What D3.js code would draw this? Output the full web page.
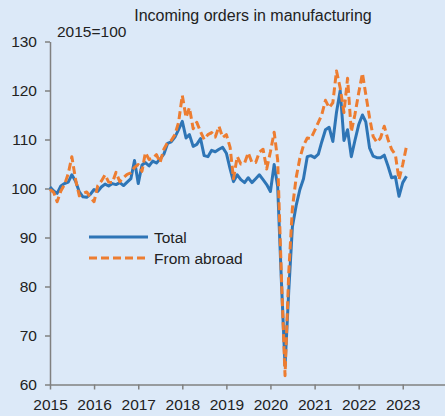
<!DOCTYPE html>
<html>
<head>
<meta charset="utf-8">
<script src="https://cdn.jsdelivr.net/npm/d3@7"></script>
<style>
  body { margin: 0; background: #dce9f8; }
  svg { display: block; font-family: "Liberation Sans", Arial, sans-serif; }
</style>
</head>
<body>
<div id="chart"></div>
<script>
const width = 445;
const height = 416;

// monthly index values, Jan 2015 .. Feb 2023
const total = [
  100.3, 99.5, 99.0, 100.5, 101.0, 101.3, 102.8, 101.5, 99.3, 98.3, 98.2, 98.8,
  99.8, 99.4, 100.3, 100.9, 100.5, 101.0, 100.8, 101.2, 100.6, 101.3, 102.0, 105.7,
  101.0, 104.8, 105.3, 104.6, 105.6, 105.2, 106.0, 107.0, 109.2, 109.5, 110.5, 112.0,
  113.7, 110.3, 111.0, 108.6, 109.0, 110.2, 106.7, 106.5, 107.8, 107.5, 108.0, 108.4,
  107.2, 104.0, 101.4, 102.8, 101.8, 101.2, 102.2, 101.2, 102.0, 102.8, 101.8, 100.8,
  99.4, 104.9, 100.4, 81.0, 63.8, 79.2, 92.2, 96.5, 99.8, 102.0, 106.5, 106.7,
  106.3, 107.0, 109.5, 112.0, 112.5, 109.6, 115.5, 120.0, 109.8, 112.0, 106.5, 109.8,
  113.0, 115.0, 113.6, 108.3, 106.6, 106.3, 106.3, 106.8, 104.6, 102.2, 102.4, 98.4,
  101.2, 102.5
];
const abroad = [
  99.8, 99.2, 97.3, 99.5, 100.8, 103.0, 106.5, 101.8, 98.5, 99.0, 99.3, 98.2,
  97.3, 100.6, 101.5, 102.8, 101.3, 101.2, 103.3, 101.4, 102.2, 102.9, 103.2, 104.3,
  104.9, 103.5, 107.3, 105.9, 106.2, 106.9, 105.3, 108.0, 109.4, 109.8, 111.0, 113.5,
  119.0, 114.5, 116.5, 112.2, 113.5, 111.6, 110.0, 111.0, 111.4, 110.5, 112.7, 110.4,
  111.0, 108.4, 102.0, 106.5, 105.0, 105.2, 107.3, 105.3, 105.3, 107.4, 108.0, 104.0,
  107.5, 111.5, 105.8, 82.0, 61.8, 83.0, 96.0, 102.2, 106.2, 108.8, 110.3, 110.2,
  111.8, 113.5, 115.0, 118.0, 116.5, 117.5, 124.0, 120.5, 115.5, 122.5, 111.6, 115.1,
  119.5, 123.5, 119.2, 114.5, 110.6, 109.4, 110.3, 112.7, 110.0, 108.0, 106.9, 101.8,
  104.9, 108.6
];
const yTicks = [60, 70, 80, 90, 100, 110, 120, 130];
const years = [2015, 2016, 2017, 2018, 2019, 2020, 2021, 2022, 2023];

const months = d3.utcMonth.range(new Date(Date.UTC(2015, 0, 1)), new Date(Date.UTC(2023, 2, 1)));

const svg = d3.select("#chart").append("svg")
  .attr("width", width)
  .attr("height", height);

svg.append("rect").attr("width", width).attr("height", height).attr("fill", "#dce9f8");

const x = d3.scaleUtc()
  .domain([new Date(Date.UTC(2015, 0, 1)), new Date(Date.UTC(2024, 0, 1))])
  .range([50, 446.8]);
const y = d3.scaleLinear().domain([60, 130]).range([384.5, 41.5]);

const axisColor = "#808080";

const yAxis = svg.append("g")
  .attr("transform", "translate(50,0)")
  .call(d3.axisLeft(y).tickValues(yTicks).tickSize(5).tickSizeOuter(0).tickPadding(8));
const xAxis = svg.append("g")
  .attr("transform", "translate(0,384.5)")
  .call(d3.axisBottom(x)
    .tickValues(years.map((yr) => new Date(Date.UTC(yr, 0, 1))))
    .tickFormat(d3.utcFormat("%Y"))
    .tickSize(5).tickSizeOuter(0).tickPadding(9));

[yAxis, xAxis].forEach((g) => {
  g.selectAll("path, line").attr("stroke", axisColor).attr("stroke-width", 1.5);
  g.selectAll("text").attr("fill", "#222").attr("font-size", "15.5px")
    .attr("font-family", "'Liberation Sans', Arial, sans-serif");
});

const line = d3.line()
  .x((d, i) => x(months[i]))
  .y((d) => y(d));

svg.append("path")
  .datum(total)
  .attr("fill", "none")
  .attr("stroke", "#2e75b6")
  .attr("stroke-width", 3)
  .attr("stroke-linejoin", "round")
  .attr("d", line);

svg.append("path")
  .datum(abroad)
  .attr("fill", "none")
  .attr("stroke", "#ed7d31")
  .attr("stroke-width", 3)
  .attr("stroke-dasharray", "8,4")
  .attr("stroke-linejoin", "round")
  .attr("d", line);

svg.append("text")
  .attr("x", 253).attr("y", 21)
  .attr("text-anchor", "middle")
  .attr("font-size", "16px")
  .attr("fill", "#222")
  .text("Incoming orders in manufacturing");

svg.append("text")
  .attr("x", 57).attr("y", 36.5)
  .attr("font-size", "15.5px")
  .attr("fill", "#222")
  .text("2015=100");

// legend
const legend = svg.append("g");
legend.append("line")
  .attr("x1", 89).attr("x2", 148).attr("y1", 237).attr("y2", 237)
  .attr("stroke", "#2e75b6").attr("stroke-width", 3);
legend.append("text")
  .attr("x", 154).attr("y", 242.5)
  .attr("font-size", "15.5px").attr("fill", "#222")
  .text("Total");
legend.append("line")
  .attr("x1", 89).attr("x2", 148).attr("y1", 258).attr("y2", 258)
  .attr("stroke", "#ed7d31").attr("stroke-width", 3)
  .attr("stroke-dasharray", "8,4");
legend.append("text")
  .attr("x", 154).attr("y", 263.5)
  .attr("font-size", "15.5px").attr("fill", "#222")
  .text("From abroad");
</script>
</body>
</html>
